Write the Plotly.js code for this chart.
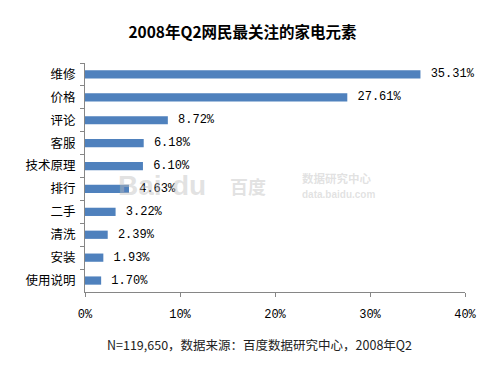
<!DOCTYPE html>
<html><head><meta charset="utf-8">
<script src="https://cdn.plot.ly/plotly-3.0.1.min.js"></script>
<style>html,body{margin:0;padding:0;background:#fff;}#chart{width:500px;height:375px;}</style>
</head><body><div id="chart"></div>
<script>
const categories = ["维修","价格","评论","客服","技术原理","排行","二手","清洗","安装","使用说明"];
const values = [35.31, 27.61, 8.72, 6.18, 6.10, 4.63, 3.22, 2.39, 1.93, 1.70];
const xTickVals = [0, 10, 20, 30, 40];
const xTickText = ["0%", "10%", "20%", "30%", "40%"];
const titleText = "2008年Q2网民最关注的家电元素";
const footerText = "N=119,650，数据来源：百度数据研究中心，2008年Q2";

const cjk = "'Noto Sans CJK SC', sans-serif";
const mono = "'Liberation Mono', 'DejaVu Sans Mono', monospace";
const wm = "rgba(190,190,190,0.45)";

const trace = {
  type: "bar", orientation: "h",
  y: categories, x: values,
  marker: {color: "#4F81BD", line: {width: 0}},
  width: 0.36,
  text: values.map(v => "\u00a0" + v.toFixed(2) + "%"),
  textposition: "outside",
  constraintext: "none",
  cliponaxis: false,
  textfont: {family: mono, size: 12, color: "#000"},
  hoverinfo: "none"
};

const layout = {
  width: 500, height: 375,
  margin: {l: 85, r: 35, t: 63, b: 83},
  paper_bgcolor: "#fff", plot_bgcolor: "#fff",
  showlegend: false,
  title: {text: "<b>" + titleText + "</b>", x: 0.485, xanchor: "center", y: 0.912, yanchor: "middle",
          font: {family: cjk, size: 15.5, color: "#000"}},
  xaxis: {
    range: [0, 40], tickvals: xTickVals, ticktext: xTickText,
    showgrid: false, zeroline: false,
    showline: true, linecolor: "#868686", linewidth: 1,
    ticks: "outside", ticklen: 4, tickcolor: "#868686",
    ticklabelstandoff: 7,
    tickfont: {family: mono, size: 12, color: "#000"},
    fixedrange: true
  },
  yaxis: {
    categoryorder: "array", categoryarray: categories,
    autorange: "reversed",
    showgrid: false, zeroline: false,
    showline: true, linecolor: "#868686", linewidth: 1,
    ticks: "outside", ticklen: 4, tickcolor: "#868686",
    tickson: "boundaries",
    ticklabelstandoff: 6,
    tickfont: {family: cjk, size: 12.5, color: "#000"},
    fixedrange: true
  },
  annotations: [
    {text: footerText, xref: "paper", yref: "paper", x: 0.46, y: -0.23, xanchor: "center", yanchor: "middle",
     showarrow: false, font: {family: cjk, size: 12.5, color: "#222"}},
    {text: "<b>Bai</b>", xref: "x", yref: "paper", x: 3.3, y: 0.465, xanchor: "left", yanchor: "middle",
     showarrow: false, font: {family: "Arial, sans-serif", size: 28, color: wm}},
    {text: "<b>du</b>", xref: "x", yref: "paper", x: 8.9, y: 0.465, xanchor: "left", yanchor: "middle",
     showarrow: false, font: {family: "Arial, sans-serif", size: 28, color: wm}},
    {text: "<b>百度</b>", xref: "x", yref: "paper", x: 15, y: 0.465, xanchor: "left", yanchor: "middle",
     showarrow: false, font: {family: cjk, size: 18, color: wm}},
    {text: "<b>数据研究中心</b>", xref: "x", yref: "paper", x: 22.6, y: 0.5, xanchor: "left", yanchor: "middle",
     showarrow: false, font: {family: cjk, size: 11.5, color: wm}},
    {text: "<b>data.baidu.com</b>", xref: "x", yref: "paper", x: 22.6, y: 0.425, xanchor: "left", yanchor: "middle",
     showarrow: false, font: {family: "Arial, sans-serif", size: 10, color: wm}}
  ]
};

Plotly.newPlot("chart", [trace], layout, {staticPlot: true, displayModeBar: false});
</script>
</body></html>
